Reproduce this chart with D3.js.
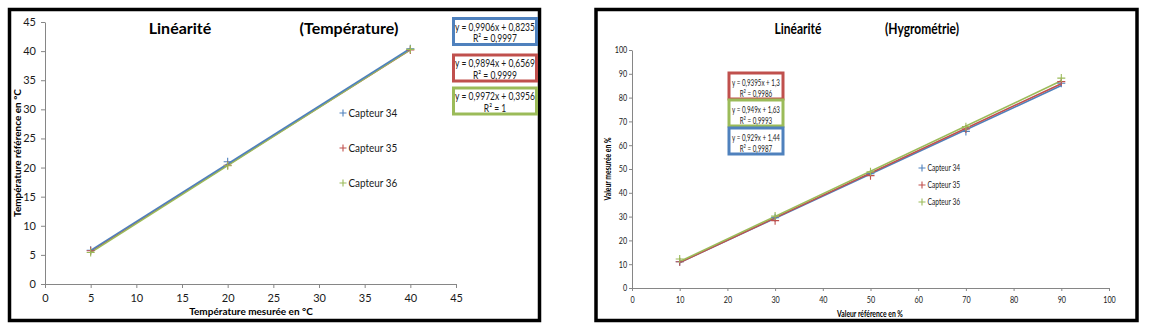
<!DOCTYPE html>
<html><head><meta charset="utf-8">
<script src="https://cdn.jsdelivr.net/npm/d3@7"></script>
<style>
body{margin:0;background:#fff}
svg{display:block;font-family:Lato,"Open Sans",sans-serif}
</style></head><body>
<svg id="c" width="1150" height="330"></svg>
<script>
// ---------- shared ----------
const seriesNames = ["Capteur 34", "Capteur 35", "Capteur 36"];
const seriesColors = ["#4F81BD", "#C0504D", "#9BBB59"];

// ---------- Température ----------
const tempX = [5, 20, 40];
const temp34 = [5.8, 21.0, 40.4];
const temp35 = [5.7, 20.4, 40.2];
const temp36 = [5.4, 20.3, 40.3];
const tempSlope = [0.9906, 0.9894, 0.9972];
const tempIntercept = [0.8235, 0.6569, 0.3956];
const tempEq = ["y = 0,9906x + 0,8235", "y = 0,9894x + 0,6569", "y = 0,9972x + 0,3956"];
const tempR2 = ["R² = 0,9997", "R² = 0,9999", "R² = 1"];
const tempTicks = [0, 5, 10, 15, 20, 25, 30, 35, 40, 45];

// ---------- Hygrométrie ----------
const hygX = [10, 30, 50, 70, 90];
const hyg34 = [11.0, 29.5, 48.0, 65.8, 86.0];
const hyg35 = [11.0, 28.3, 47.2, 66.8, 86.7];
const hyg36 = [12.2, 30.2, 48.8, 67.8, 88.2];
const hygSlope = [0.929, 0.9395, 0.949];
const hygIntercept = [1.44, 1.3, 1.63];
const hygEq = ["y = 0,929x + 1,44", "y = 0,9395x + 1,3", "y = 0,949x + 1,63"];
const hygR2 = ["R² = 0,9987", "R² = 0,9986", "R² = 0,9993"];
const hygTicks = [0, 10, 20, 30, 40, 50, 60, 70, 80, 90, 100];

const svg = d3.select("#c");

function txt(g, x, y, s, o) {
  return g.append("text")
    .attr("transform", `translate(${x},${y}) scale(${o.sx || 1},1)`)
    .attr("text-anchor", o.anchor || "start")
    .attr("dy", o.dy || null)
    .attr("font-weight", o.bold ? "bold" : null)
    .style("font-size", o.size + "px")
    .attr("fill", o.fill || "#1a1a1a")
    .text(s);
}

function panel(cfg) {
  const g = svg.append("g");
  g.append("rect").attr("x", cfg.frame[0]).attr("y", cfg.frame[1])
    .attr("width", cfg.frame[2]).attr("height", cfg.frame[3])
    .attr("fill", "#fff").attr("stroke", "#000").attr("stroke-width", 3.5);

  const x = d3.scaleLinear().domain(cfg.xDom).range(cfg.xRange);
  const y = d3.scaleLinear().domain(cfg.yDom).range(cfg.yRange);

  const ax = g.append("g").attr("transform", `translate(0,${cfg.yRange[0]})`)
    .call(d3.axisBottom(x).tickValues(cfg.ticksX).tickSize(cfg.tick).tickPadding(cfg.padX).tickSizeOuter(0));
  const ay = g.append("g").attr("transform", `translate(${cfg.xRange[0]},0)`)
    .call(d3.axisLeft(y).tickValues(cfg.ticksY).tickSize(cfg.tick).tickPadding(cfg.padY).tickSizeOuter(0));
  [ax, ay].forEach(a => {
    a.select(".domain").attr("stroke", "#868686");
    a.selectAll(".tick line").attr("stroke", "#868686");
    a.selectAll("text").attr("fill", "#1a1a1a").style("font-size", cfg.tickFont + "px")
      .style("font-family", "Lato, sans-serif")
      .attr("transform", `scale(${cfg.sx},1)`);
  });

  // trendlines
  cfg.lineOrder.forEach(i => {
    g.append("line")
      .attr("x1", x(cfg.xMin)).attr("y1", y(cfg.slope[i] * cfg.xMin + cfg.intercept[i]))
      .attr("x2", x(cfg.xMax)).attr("y2", y(cfg.slope[i] * cfg.xMax + cfg.intercept[i]))
      .attr("stroke", seriesColors[i]).attr("stroke-width", cfg.lw);
  });
  // markers
  const m = cfg.mark;
  cfg.ys.forEach((ser, i) => {
    ser.forEach((v, k) => {
      const px = x(cfg.xs[k]), py = y(v);
      g.append("path").attr("d", `M${px - m},${py}H${px + m}M${px},${py - m}V${py + m}`)
        .attr("stroke", seriesColors[i]).attr("stroke-width", 1.1).attr("fill", "none");
    });
  });

  // titles
  cfg.titles.forEach(t => {
    txt(g, t[1], cfg.titleY, t[0], {anchor: "middle", bold: true, size: cfg.titleFont, sx: cfg.sx, fill: "#000"});
  });

  // axis titles
  txt(g, cfg.xLab[1], cfg.xLab[2], cfg.xLab[0], {anchor: "middle", bold: true, size: cfg.labFont, sx: cfg.sx, fill: "#000"});
  g.append("text").attr("transform", `translate(${cfg.yLab[1]},${cfg.yLab[2]}) rotate(-90) scale(${cfg.sx},1)`)
    .attr("text-anchor", "middle").attr("font-weight", "bold").style("font-size", cfg.labFont + "px")
    .attr("fill", "#000").text(cfg.yLab[0]);

  // equation boxes
  cfg.boxes.forEach(b => {
    const i = b.s;
    g.append("rect").attr("x", cfg.boxX).attr("y", b.top).attr("width", cfg.boxW).attr("height", cfg.boxH)
      .attr("fill", "#fff").attr("stroke", seriesColors[i]).attr("stroke-width", 3);
    const cx = cfg.boxX + cfg.boxW / 2;
    const t1 = txt(g, cx, b.top + cfg.boxL[0], cfg.eq[i], {anchor: "middle", size: cfg.boxFont});
    const w = t1.node().getComputedTextLength();
    const s = Math.min(1, cfg.boxTextW / w);
    t1.attr("transform", `translate(${cx},${b.top + cfg.boxL[0]}) scale(${s},1)`);
    txt(g, cx, b.top + cfg.boxL[1], cfg.r2[i], {anchor: "middle", size: cfg.boxFont, sx: s});
  });

  // legend
  seriesNames.forEach((n, i) => {
    const ly = cfg.legY[i], lx = cfg.legX, lm = cfg.legM;
    g.append("path").attr("d", `M${lx - lm},${ly}H${lx + lm}M${lx},${ly - lm}V${ly + lm}`)
      .attr("stroke", seriesColors[i]).attr("stroke-width", 1.1);
    txt(g, lx + lm + 2, ly, n, {dy: "0.35em", size: cfg.legFont, sx: cfg.legSx});
  });
}

panel({
  frame: [9.5, 9.5, 530, 311],
  xDom: [0, 45], yDom: [0, 45], xRange: [45, 456], yRange: [284, 22],
  ticksX: tempTicks, ticksY: tempTicks, tick: 4, padX: 6, padY: 5, tickFont: 11, sx: 1,
  xs: tempX, ys: [temp34, temp35, temp36],
  slope: tempSlope, intercept: tempIntercept, xMin: 5, xMax: 40, lw: 1.6,
  lineOrder: [1, 2, 0], mark: 4,
  titles: [["Linéarité", 180], ["(Température)", 349]], titleY: 34, titleFont: 16,
  xLab: ["Température mesurée en °C", 251, 315], yLab: ["Température référence en °C", 21, 153], labFont: 10,
  boxX: 453.5, boxW: 83, boxH: 26, boxL: [12, 23.5], boxFont: 10.5, boxTextW: 80,
  boxes: [{s: 0, top: 18.5}, {s: 1, top: 55}, {s: 2, top: 88}],
  eq: tempEq, r2: tempR2,
  legX: 343, legM: 3.5, legY: [113, 148, 183], legFont: 11, legSx: 0.9
});

panel({
  frame: [596, 9.5, 541, 311],
  xDom: [0, 100], yDom: [0, 100], xRange: [632, 1109], yRange: [288, 50],
  ticksX: hygTicks, ticksY: hygTicks, tick: 3, padX: 6, padY: 3, tickFont: 9, sx: 0.8,
  xs: hygX, ys: [hyg34, hyg35, hyg36],
  slope: hygSlope, intercept: hygIntercept, xMin: 10, xMax: 90, lw: 1.6,
  lineOrder: [0, 1, 2], mark: 4,
  titles: [["Linéarité", 798], ["(Hygrométrie)", 922]], titleY: 34, titleFont: 15,
  xLab: ["Valeur référence en %", 870, 317], yLab: ["Valeur mesurée en %", 611, 169], labFont: 8.5,
  boxX: 729, boxW: 54, boxH: 26, boxL: [13, 24], boxFont: 9.5, boxTextW: 48,
  boxes: [{s: 1, top: 73}, {s: 2, top: 100}, {s: 0, top: 128}],
  eq: hygEq, r2: hygR2,
  legX: 922, legM: 3.5, legY: [168, 185, 202], legFont: 9.5, legSx: 0.7
});
</script>
</body></html>
